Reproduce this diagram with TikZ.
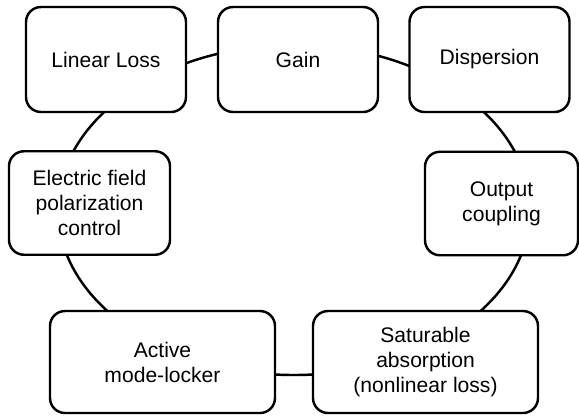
\documentclass[tikz,border=0pt]{standalone}
\usepackage{fontspec}
\setmainfont{Liberation Sans}
\tikzset{
    font=\fontsize{12}{14.2}\selectfont,
    %
    % box of one cavity element
    stageBlock/.style={
        rectangle, draw=black, fill=white, line width=1.4pt,
        rounded corners=0.3cm, align=center, inner sep=2pt
    },
    topBlock/.style={stageBlock, minimum width=3.2cm, minimum height=2.1cm},
    sideBlock/.style={stageBlock, minimum width=3.14cm, minimum height=2.07cm},
    lowBlock/.style={stageBlock, minimum width=4.5cm, minimum height=2.04cm},
    %
    % the round trip through the cavity
    ring/.style={draw=black, line width=1.4pt}
}

\begin{document}
\begin{tikzpicture}

	\useasboundingbox (0,0) rectangle (11.58,-8.3);

	%% round trip (drawn first, the boxes cover it)
	\coordinate (loop) at (5.88,-4.2);
	\draw[ring] (loop) ellipse [x radius=4.72cm, y radius=3.3cm];

	%% top row
	\node (linLoss) [topBlock] at (2.12,-1.19) {Linear Loss};
	\node (gain) [topBlock] at (5.96,-1.19) {Gain};
	\node (disp) [topBlock] at (9.79,-1.19) {Dispersion};

	%% sides
	\node (polCtrl) [sideBlock, minimum width=3.22cm] at (1.79,-4.06) {Electric field\\polarization\\control};
	\node (outCoup) [sideBlock, minimum width=3.06cm] at (10.03,-4.07) {Output\\coupling};

	%% bottom row
	\node (modeLock) [lowBlock] at (3.25,-7.24) {Active\\mode-locker};
	\node (satAbs) [lowBlock] at (8.51,-7.24) {Saturable\\absorption\\(nonlinear loss)};

\end{tikzpicture}
\end{document}
